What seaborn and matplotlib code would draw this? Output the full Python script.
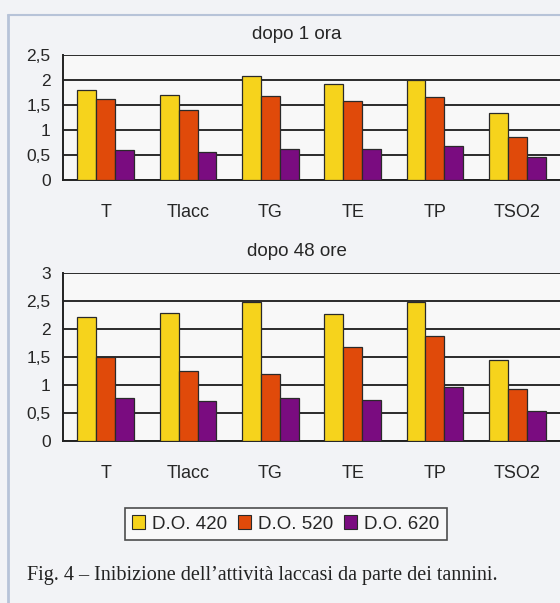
import pandas as pd
import matplotlib.pyplot as plt
import seaborn as sns
from matplotlib.ticker import FuncFormatter, FixedLocator
from matplotlib.patches import Patch

# ------------- data -------------
campioni = ['T', 'Tlacc', 'TG', 'TE', 'TP', 'TSO2']
serie = ['D.O. 420', 'D.O. 520', 'D.O. 620']

# dopo 1 ora
do420_1h = [1.80, 1.70, 2.08, 1.92, 2.00, 1.35]
do520_1h = [1.62, 1.40, 1.68, 1.58, 1.66, 0.86]
do620_1h = [0.60, 0.57, 0.62, 0.62, 0.68, 0.46]

# dopo 48 ore
do420_48h = [2.22, 2.28, 2.48, 2.27, 2.48, 1.44]
do520_48h = [1.50, 1.25, 1.20, 1.68, 1.88, 0.93]
do620_48h = [0.77, 0.72, 0.77, 0.74, 0.97, 0.53]

colori = ['#f6d31c', '#e04a0a', '#7a0c80']


def to_long(v420, v520, v620):
    rows = []
    for nome, vals in zip(serie, [v420, v520, v620]):
        for c, v in zip(campioni, vals):
            rows.append({'campione': c, 'serie': nome, 'valore': v})
    return pd.DataFrame(rows)


df_1h = to_long(do420_1h, do520_1h, do620_1h)
df_48h = to_long(do420_48h, do520_48h, do620_48h)

sns.set_style('white')
plt.rcParams['font.family'] = ['Liberation Sans', 'DejaVu Sans']

fig = plt.figure(figsize=(5.6, 6.03), dpi=100, facecolor='#f2f3f6')

ax1 = fig.add_axes([0.1125, 0.7015, 0.8875, 0.207])
ax2 = fig.add_axes([0.1125, 0.2687, 0.8875, 0.2786])

virgola = FuncFormatter(lambda v, p: ('%g' % v).replace('.', ','))


def disegna(ax, df, ymax, titolo):
    ax.set_facecolor('#f8f8f8')
    sns.barplot(data=df, x='campione', y='valore', hue='serie', palette=colori,
                saturation=1, width=0.69, gap=0, edgecolor='#2a2a2a', linewidth=0.9,
                legend=False, ax=ax, zorder=3)
    ax.set_ylim(0, ymax)
    ax.set_xlim(-0.52, len(campioni) - 0.48)
    ax.yaxis.set_major_locator(FixedLocator([i * 0.5 for i in range(int(ymax / 0.5) + 1)]))
    ax.yaxis.set_major_formatter(virgola)
    ax.grid(axis='y', color='#2b2b2b', linewidth=1.4, zorder=0)
    ax.set_axisbelow(True)
    for s in ['top', 'right']:
        ax.spines[s].set_visible(False)
    for s in ['left', 'bottom']:
        ax.spines[s].set_color('#222222')
        ax.spines[s].set_linewidth(1.4)
    ax.tick_params(axis='y', direction='out', length=7, width=1.4, color='#2b2b2b',
                   labelsize=12.5, pad=2)
    ax.tick_params(axis='x', which='major', length=0, labelsize=13, pad=17)
    ax.xaxis.set_minor_locator(FixedLocator([i + 0.5 for i in range(len(campioni) - 1)]))
    ax.tick_params(axis='x', which='minor', direction='out', length=4, width=1.2,
                   color='#2b2b2b')
    ax.set_xlabel('')
    ax.set_ylabel('')
    ax.set_title(titolo, fontsize=13.5, pad=12, x=0.47)


disegna(ax1, df_1h, 2.5, 'dopo 1 ora')
disegna(ax2, df_48h, 3, 'dopo 48 ore')

maniglie = [Patch(facecolor=c, edgecolor='#2a2a2a', linewidth=0.8) for c in colori]
leg = fig.legend(maniglie, serie, loc='center', bbox_to_anchor=(0.51, 0.131), ncol=3,
                 fontsize=13.5, frameon=True, fancybox=False, handlelength=0.7,
                 handleheight=0.7, handletextpad=0.35, columnspacing=0.6,
                 borderpad=0.4)
leg.get_frame().set_edgecolor('#222222')
leg.get_frame().set_linewidth(1.2)
leg.get_frame().set_facecolor('#fafafa')

fig.text(0.048, 0.045, 'Fig. 4 \u2013 Inibizione dell\u2019attivit\u00e0 laccasi da parte dei tannini.',
         family=['Liberation Serif', 'DejaVu Serif'], fontsize=14.5, color='#222222',
         ha='left', va='center')

# cornice leggera della scansione
fig.add_artist(plt.Line2D([0.014, 0.014], [0.0, 0.975], color='#b7c3d8', lw=2))
fig.add_artist(plt.Line2D([0.014, 1.0], [0.975, 0.975], color='#b7c3d8', lw=1.5))

fig.savefig('out.png', dpi=100, facecolor=fig.get_facecolor())
